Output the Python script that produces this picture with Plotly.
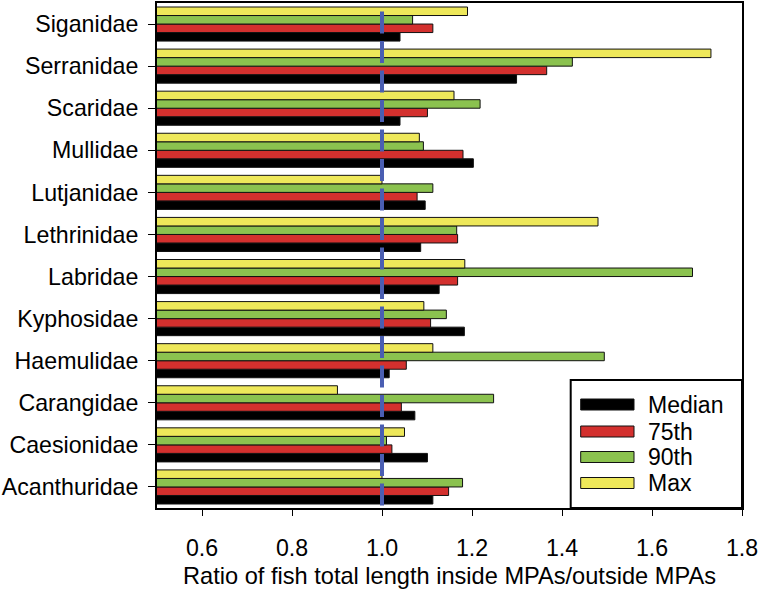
import plotly.graph_objects as go

# Categories listed bottom-to-top (Plotly places the first category at the bottom)
families = ["Acanthuridae", "Caesionidae", "Carangidae", "Haemulidae", "Kyphosidae",
            "Labridae", "Lethrinidae", "Lutjanidae", "Mullidae", "Scaridae",
            "Serranidae", "Siganidae"]

median = [1.113, 1.101, 1.073, 1.016, 1.183, 1.127, 1.086, 1.096, 1.203, 1.040, 1.299, 1.040]
p75    = [1.148, 1.022, 1.043, 1.054, 1.108, 1.168, 1.168, 1.078, 1.180, 1.101, 1.366, 1.113]
p90    = [1.179, 1.010, 1.248, 1.494, 1.143, 1.690, 1.166, 1.113, 1.092, 1.218, 1.423, 1.068]
pmax   = [1.000, 1.050, 0.901, 1.113, 1.093, 1.184, 1.480, 1.000, 1.083, 1.160, 1.731, 1.190]

series_names = ["Median", "75th", "90th", "Max"]
series_vals = [median, p75, p90, pmax]
colors = ["#000000", "#D3302E", "#8BC24F", "#EEE85A"]

x_ticks = [0.6, 0.8, 1.0, 1.2, 1.4, 1.6, 1.8]
x_tick_labels = ["0.6", "0.8", "1.0", "1.2", "1.4", "1.6", "1.8"]
ref_line = 1.0

FONT = "Liberation Sans, Arial, Helvetica, sans-serif"
FS = 23.2

fig = go.Figure()
for name, vals, col in zip(series_names, series_vals, colors):
    fig.add_trace(go.Bar(
        y=families, x=vals, name=name, orientation="h",
        marker=dict(color=col, line=dict(color="#111111", width=1)),
        showlegend=False,
    ))

# dashed reference line at ratio = 1
fig.add_shape(type="line", xref="x", yref="paper", x0=ref_line, x1=ref_line,
              y0=0.983, y1=0.0, line=dict(color="#4A5EB2", width=4, dash="22px,7.5px"),
              layer="above")

# manual legend
L = 157.0; R = 742.0; T = 3.0; B = 508.0
W = R - L; H = B - T
def px(x): return (x - L) / W
def py(y): return (B - y) / H

fig.add_shape(type="rect", xref="paper", yref="paper",
              x0=px(570.7), x1=1.0, y0=0.0, y1=py(380),
              line=dict(color="black", width=2), fillcolor="white", layer="above")
rows = [404.5, 431.5, 457.0, 483.0]
for name, col, yc in zip(series_names, colors, rows):
    fig.add_shape(type="rect", xref="paper", yref="paper",
                  x0=px(580.7), x1=px(634), y0=py(yc + 5.5), y1=py(yc - 5.5),
                  line=dict(color="#111111", width=1), fillcolor=col, layer="above")
    fig.add_annotation(xref="paper", yref="paper", x=px(646), y=py(yc),
                       text=name, showarrow=False, xanchor="left", yanchor="middle",
                       font=dict(family=FONT, size=23, color="black"))

fig.update_layout(
    width=758, height=593,
    margin=dict(l=157, r=16, t=3, b=85, autoexpand=False),
    barmode="group", bargap=0.19, bargroupgap=0,
    plot_bgcolor="white", paper_bgcolor="white",
    font=dict(family=FONT, size=FS, color="black"),
)
fig.update_xaxes(
    range=[0.5, 1.8], tickvals=x_ticks, ticktext=x_tick_labels,
    showline=True, linecolor="black", linewidth=2, mirror=True,
    ticks="outside", ticklen=6, tickcolor="black", tickwidth=1,
    showgrid=False, zeroline=False, ticklabelstandoff=12,
    ticklabeloverflow="allow",
    title=dict(text="Ratio of fish total length inside MPAs/outside MPAs",
               font=dict(family=FONT, size=23.6), standoff=8),
    tickfont=dict(family=FONT, size=FS),
)
fig.update_yaxes(
    showline=True, linecolor="black", linewidth=2, mirror=True,
    ticks="outside", ticklen=7, tickcolor="black", tickwidth=1,
    showgrid=False, tickfont=dict(family=FONT, size=FS),
    ticklabelstandoff=5,
)

fig.write_html("out.html", config={"displayModeBar": False},
               post_script="document.body.style.margin='0px';")
